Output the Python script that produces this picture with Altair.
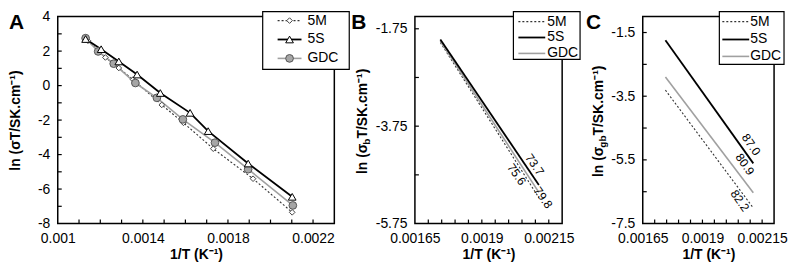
import altair as alt
import pandas as pd

FONT = "Liberation Sans"
series = ["5M", "5S", "GDC"]

# ---------------- Panel A data (1/T, ln(sigma T)) ----------------
a_x_5m = [0.001142, 0.001224, 0.001287, 0.001354, 0.001489, 0.001591, 0.001731, 0.001918, 0.002102]
a_y_5m = [2.60, 1.63, 1.02, 0.35, -1.12, -2.16, -3.66, -5.40, -7.35]
a_x_5s = [0.001131, 0.001204, 0.001287, 0.001373, 0.001482, 0.001622, 0.001707, 0.001895, 0.002102]
a_y_5s = [2.70, 2.11, 1.40, 0.64, -0.43, -1.58, -2.64, -4.52, -6.45]
a_x_gdc = [0.001131, 0.001190, 0.001263, 0.001365, 0.001466, 0.001588, 0.001739, 0.001895, 0.002105]
a_y_gdc = [2.75, 1.98, 1.27, 0.15, -0.71, -1.96, -3.31, -4.85, -6.95]

# ---------------- Panel B data (bulk) ----------------
b_x = [0.001745, 0.002113]
b_y_5m = [-2.03, -5.22]
b_y_5s = [-1.97, -4.96]
b_y_gdc = [-2.00, -5.11]
b_labels = ["75.6", "73.7", "79.8"]
b_label_x = [0.00203, 0.002097, 0.002129]
b_label_y = [-4.74, -4.54, -5.22]

# ---------------- Panel C data (grain boundary) ----------------
c_x = [0.001745, 0.002113]
c_y_5m = [-3.31, -7.01]
c_y_5s = [-1.74, -5.61]
c_y_gdc = [-2.90, -6.53]
c_labels = ["82.2", "87.0", "80.9"]
c_label_x = [0.002057, 0.002104, 0.002078]
c_label_y = [-6.78, -5.02, -5.64]

# ---------------- axes ----------------
a_xlabels = [0.001, 0.0014, 0.0018, 0.0022]
a_xticks = [0.0011, 0.0012, 0.0013, 0.0014, 0.0015, 0.0016, 0.0017, 0.0018, 0.0019, 0.0020, 0.0021, 0.0022]
a_ylabels = [-8, -6, -4, -2, 0, 2, 4]
a_yticks = [-7, -6, -5, -4, -3, -2, -1, 0, 1, 2, 3]
bc_xlabels = [0.00165, 0.0019, 0.00215]
bc_xticks = [0.0017, 0.00175, 0.0018, 0.00185, 0.0019, 0.00195, 0.002, 0.00205, 0.0021, 0.00215]
b_ylabels = [-5.75, -3.75, -1.75]
b_yticks = [-4.75, -3.75, -2.75, -1.75]
c_ylabels = [-7.5, -5.5, -3.5, -1.5]
c_yticks = [-6.5, -5.5, -4.5, -3.5, -2.5, -1.5]

# y titles: (main part, subscript, rest)
a_ytitle = "ln (σT/SK.cm⁻¹)"
b_ytitle = ["ln (σ", "b", "T/SK.cm⁻¹)"]
c_ytitle = ["ln (σ", "gb", "T/SK.cm⁻¹)"]

LINE = {
    "5M": dict(color="#333333", strokeWidth=1.1, strokeDash=[2, 2]),
    "5S": dict(color="#000000", strokeWidth=1.8),
    "GDC": dict(color="#a0a0a0", strokeWidth=1.6),
}
POINT = {
    "5M": dict(shape="diamond", fill="white", stroke="#444444", size=32, strokeWidth=1, filled=True),
    "5S": dict(shape="triangle-up", fill="white", stroke="#000000", size=60, strokeWidth=1, filled=True),
    "GDC": dict(shape="circle", fill="#a6a6a6", stroke="#555555", size=60, strokeWidth=1, filled=True),
}

LABEL_EXPR = "replace(format(datum.value, '~g'), '\u2212', '-')"
one = pd.DataFrame({"k": [0]})
H = 208
TOP = -5   # top of legend boxes relative to plot top


def make_xy(xdom, ydom, xlabels, ylabels, ytitle, title_x):
    X = alt.X("x:Q", scale=alt.Scale(domain=xdom, nice=False, zero=False),
              axis=alt.Axis(values=xlabels, labelExpr=LABEL_EXPR, title="1/T (K⁻¹)",
                            domain=False, ticks=False, grid=False, labelPadding=8,
                            titleY=24, labelFlush=False))
    yax = dict(values=ylabels, labelExpr=LABEL_EXPR, domain=False, ticks=False, grid=False,
               labelPadding=8, labelFlush=False)
    if ytitle:
        yax.update(title=ytitle, titleX=title_x)
    else:
        yax.update(title="")
    Y = alt.Y("y:Q", scale=alt.Scale(domain=ydom, nice=False, zero=False), axis=alt.Axis(**yax))
    return X, Y


def sub_title_layers(parts, x_base):
    # rotated title built from three text pieces so the subscript can be smaller
    fs, fs_sub = 14, 10
    w1 = 2.111 * fs            # "ln (σ"
    w2 = 0.611 * fs_sub * len(parts[1])
    w3 = 5.2 * fs              # "T/SK.cm⁻¹)"
    total = w1 + w2 + w3
    y0 = H / 2 + total / 2
    pos = [(parts[0], fs, x_base, y0),
           (parts[1], fs_sub, x_base + 3, y0 - w1),
           (parts[2], fs, x_base, y0 - w1 - w2)]
    out = []
    for txt, size, xx, yy in pos:
        out.append(alt.Chart(pd.DataFrame({"t": [txt]})).mark_text(
            angle=270, align="left", baseline="alphabetic", font=FONT, fontSize=size,
            fontWeight="bold", color="black").encode(x=alt.value(xx), y=alt.value(yy), text="t:N"))
    return out


def legend_layers(bx0, bx1, by1, lx0, lx1, tx, ys, markers):
    layers = [alt.Chart(one).mark_rect(fill="white", stroke="black", strokeWidth=1.2).encode(
        x=alt.value(bx0), x2=alt.value(bx1), y=alt.value(TOP), y2=alt.value(by1))]
    for s, yy in zip(series, ys):
        d = pd.DataFrame({"series": [s]})
        layers.append(alt.Chart(d).mark_rule(**LINE[s]).encode(
            x=alt.value(lx0), x2=alt.value(lx1), y=alt.value(yy)))
        if markers:
            layers.append(alt.Chart(d).mark_point(opacity=1, **POINT[s]).encode(
                x=alt.value((lx0 + lx1) / 2), y=alt.value(yy)))
        layers.append(alt.Chart(d).mark_text(align="left", baseline="middle", font=FONT,
                                             fontSize=14, color="black").encode(
            x=alt.value(tx), y=alt.value(yy), text="series:N"))
    return layers


def panel(W, X, Y, xticks, yticks, lines, points, labels, letter, letter_x, legend, extra):
    layers = []
    layers.append(alt.Chart(one).mark_rect(filled=False, stroke="black", strokeWidth=1.5).encode(
        x=alt.value(0), x2=alt.value(W), y=alt.value(0), y2=alt.value(H)))
    layers.append(alt.Chart(pd.DataFrame({"x": xticks})).mark_rule(color="black", strokeWidth=1.2).encode(
        x=X, y=alt.value(H), y2=alt.value(H - 4)))
    layers.append(alt.Chart(pd.DataFrame({"y": yticks})).mark_rule(color="black", strokeWidth=1.2).encode(
        y=Y, x=alt.value(0), x2=alt.value(4)))
    for s in ["5M", "GDC", "5S"]:
        layers.append(alt.Chart(lines[s]).mark_line(**LINE[s]).encode(x=X, y=Y))
    if points:
        for s in ["5M", "GDC", "5S"]:
            layers.append(alt.Chart(lines[s]).mark_point(opacity=1, **POINT[s]).encode(x=X, y=Y))
    if labels is not None:
        layers.append(alt.Chart(labels).mark_text(angle=55, font=FONT, fontSize=12, color="black").encode(
            x=X, y=Y, text="label:N"))
    layers += legend
    layers += extra
    layers.append(alt.Chart(one).mark_text(text=letter, font=FONT, fontSize=21, fontWeight="bold",
                                           align="left", baseline="alphabetic", color="black").encode(
        x=alt.value(letter_x), y=alt.value(12)))
    return alt.layer(*layers).properties(width=W, height=H)


# Panel A
XA, YA = make_xy([0.001, 0.0023], [-8, 4], a_xlabels, a_ylabels, a_ytitle, -35)
linesA = {
    "5M": pd.DataFrame({"x": a_x_5m, "y": a_y_5m}),
    "5S": pd.DataFrame({"x": a_x_5s, "y": a_y_5s}),
    "GDC": pd.DataFrame({"x": a_x_gdc, "y": a_y_gdc}),
}
legA = legend_layers(206, 293, 53, 221, 245, 251, [4, 23, 42], True)
pA = panel(278, XA, YA, a_xticks, a_yticks, linesA, True, None, "A", -49, legA, [])

# Panel B
XB, YB = make_xy([0.00165, 0.0022], [-5.75, -1.5], bc_xlabels, b_ylabels, None, 0)
linesB = {
    "5M": pd.DataFrame({"x": b_x, "y": b_y_5m}),
    "5S": pd.DataFrame({"x": b_x, "y": b_y_5s}),
    "GDC": pd.DataFrame({"x": b_x, "y": b_y_gdc}),
}
labB = pd.DataFrame({"x": b_label_x, "y": b_label_y, "label": b_labels})
legB = legend_layers(99, 166, 43, 104, 131, 133, [5, 21, 37], False)
pB = panel(148, XB, YB, bc_xticks, b_yticks, linesB, False, labB, "B", -64, legB,
           sub_title_layers(b_ytitle, -48))

# Panel C
XC, YC = make_xy([0.00165, 0.0022], [-7.5, -1.0], bc_xlabels, c_ylabels, None, 0)
linesC = {
    "5M": pd.DataFrame({"x": c_x, "y": c_y_5m}),
    "5S": pd.DataFrame({"x": c_x, "y": c_y_5s}),
    "GDC": pd.DataFrame({"x": c_x, "y": c_y_gdc}),
}
labC = pd.DataFrame({"x": c_label_x, "y": c_label_y, "label": c_labels})
legC = legend_layers(77, 142, 48, 80, 107, 108, [5, 23, 40], False)
pC = panel(132, XC, YC, bc_xticks, c_yticks, linesC, False, labC, "C", -57, legC,
           sub_title_layers(c_ytitle, -40))

chart = alt.hconcat(pA, pB, pC, spacing=81, bounds="flush").properties(padding=0).configure_view(
    stroke="transparent").configure_axis(
    labelFont=FONT, labelFontSize=14, labelColor="black",
    titleFont=FONT, titleFontSize=14, titleFontWeight="bold", titleColor="black")

chart.save("out.html", embed_options={"renderer": "svg", "actions": False})
